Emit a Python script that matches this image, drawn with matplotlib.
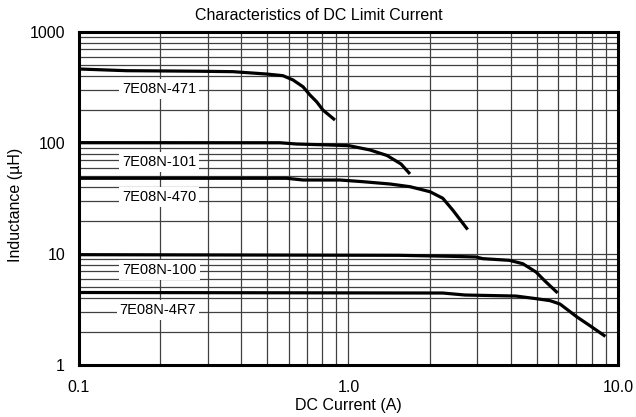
import matplotlib
matplotlib.use("Agg")
import matplotlib.pyplot as plt
from matplotlib.ticker import FixedLocator, FixedFormatter, NullFormatter

plt.rcParams['font.family'] = ['Liberation Sans', 'DejaVu Sans']

i_471 = [0.1, 0.15, 0.28, 0.373, 0.497, 0.571, 0.622, 0.678, 0.720, 0.762, 0.804, 0.891]
l_471 = [464, 448, 443, 439, 418, 404, 370, 321, 270, 235, 198, 161]

i_101 = [0.1, 0.557, 0.642, 0.854, 1.004, 1.202, 1.389, 1.566, 1.691]
l_101 = [100.7, 100.5, 97.9, 95.9, 94.6, 86.5, 77.2, 64.7, 52.6]

i_470 = [0.1, 0.590, 0.678, 0.930, 1.132, 1.426, 1.691, 2.006, 2.237, 2.436, 2.768]
l_470 = [48.1, 48.1, 46.4, 46.4, 44.8, 42.7, 40.4, 36.4, 31.8, 24.9, 16.6]

i_100 = [0.1, 1.54, 2.36, 2.973, 3.148, 3.951, 4.43, 4.963, 5.406, 5.97]
l_100 = [9.86, 9.73, 9.54, 9.40, 9.08, 8.77, 8.18, 6.88, 5.59, 4.46]

i_4r7 = [0.1, 2.237, 2.706, 4.18, 4.963, 5.594, 6.094, 7.026, 7.826, 8.98]
l_4r7 = [4.50, 4.45, 4.27, 4.18, 3.96, 3.80, 3.54, 2.72, 2.28, 1.81]

curves = [(i_471, l_471), (i_101, l_101), (i_470, l_470), (i_100, l_100), (i_4r7, l_4r7)]

part_names = ["7E08N-471", "7E08N-101", "7E08N-470", "7E08N-100", "7E08N-4R7"]
label_x = [0.198, 0.198, 0.198, 0.199, 0.196]
label_y = [305, 67.8, 32.8, 7.13, 3.11]

x_ticks = [0.1, 1.0, 10.0]
x_ticklabels = ["0.1", "1.0", "10.0"]
y_ticks = [1, 10, 100, 1000]
y_ticklabels = ["1", "10", "100", "1000"]

fig = plt.figure(figsize=(6.36, 4.17), dpi=100)
ax = fig.add_axes([0.1242, 0.1247, 0.8475, 0.7986])

ax.set_xscale("log")
ax.set_yscale("log")
ax.set_xlim(0.1, 10)
ax.set_ylim(1, 1000)

ax.grid(True, which="both", color="#404040", linewidth=0.9, zorder=1)
ax.set_axisbelow(True)

for xs, ys in curves:
    ax.plot(xs, ys, color="black", linewidth=2.3, solid_capstyle="butt",
            solid_joinstyle="round", zorder=3)

for name, lx, ly in zip(part_names, label_x, label_y):
    ax.text(lx, ly, name, fontsize=10.5, ha="center", va="center", zorder=4,
            bbox=dict(facecolor="white", edgecolor="none", boxstyle="square,pad=0.2"))

ax.xaxis.set_major_locator(FixedLocator(x_ticks))
ax.xaxis.set_major_formatter(FixedFormatter(x_ticklabels))
ax.xaxis.set_minor_formatter(NullFormatter())
ax.yaxis.set_major_locator(FixedLocator(y_ticks))
ax.yaxis.set_major_formatter(FixedFormatter(y_ticklabels))
ax.yaxis.set_minor_formatter(NullFormatter())
ax.tick_params(which="both", length=0, labelsize=11.5)
ax.tick_params(axis="x", pad=11)
ax.tick_params(axis="y", pad=10)

for sp in ax.spines.values():
    sp.set_linewidth(2.2)
    sp.set_zorder(5)

fig.text(0.5016, 0.964, "Characteristics of DC Limit Current", fontsize=11.5, ha="center", va="center")
fig.text(0.547, 0.0264, "DC Current (A)", fontsize=11.5, ha="center", va="center")
fig.text(0.024, 0.508, "Inductance (\u00b5H)", fontsize=11.5, ha="center", va="center", rotation=90)

fig.savefig("out.png", dpi=100)
